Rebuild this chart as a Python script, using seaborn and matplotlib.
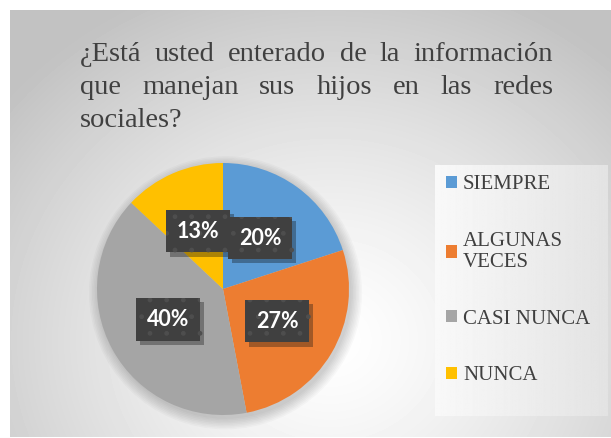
import matplotlib

matplotlib.use("Agg")
import matplotlib.pyplot as plt
import matplotlib.patheffects as pe
import numpy as np
import seaborn as sns
from matplotlib.patches import Circle, Patch

sns.set_style("white")
plt.rcParams["font.serif"] = ["Liberation Serif", "DejaVu Serif"]
plt.rcParams["font.family"] = "serif"

# data
categories = ["SIEMPRE", "ALGUNAS\nVECES", "CASI NUNCA", "NUNCA"]
values = [20, 27, 40, 13]
colors = ["#5B9BD5", "#ED7D31", "#A5A5A5", "#FFC000"]
title_lines = [
    "¿Está usted enterado de la información",
    "que manejan sus hijos en las redes",
    "sociales?",
]

W, H = 611, 438
fig = plt.figure(figsize=(W / 100, H / 100), dpi=100)
fig.patch.set_facecolor("white")

# chart area background: soft radial gradient
bg = fig.add_axes([10 / W, 1 / H, 601 / W, 427 / H])
yy, xx = np.mgrid[0:427, 0:601]
d = np.sqrt(((xx - 320) / 420.0) ** 2 + ((yy - 330) / 380.0) ** 2)
shade = 1 - 0.24 * np.clip(d, 0, 1) ** 1.3
bg.imshow(shade, cmap="gray", vmin=0, vmax=1, aspect="auto", interpolation="bilinear")
bg.set_axis_off()

# legend panel
lg = fig.add_axes([435 / W, (H - 416) / H, 173 / W, 251 / H])
grad = np.tile(np.linspace(0.975, 0.89, 200), (50, 1))
lg.imshow(grad, cmap="gray", vmin=0, vmax=1, aspect="auto")
lg.set_axis_off()

# title, justified like the original text box
renderer = fig.canvas.get_renderer()
x_left, x_right = 80, 553
baselines = [61, 94, 127]
for i, line in enumerate(title_lines):
    words = line.split()
    texts = [
        fig.text(0, 1 - baselines[i] / H, w, fontsize=20.5, color="#404040",
                 va="baseline", ha="left", family="Liberation Serif")
        for w in words
    ]
    widths = [t.get_window_extent(renderer).width for t in texts]
    if i < len(title_lines) - 1 and len(words) > 1:
        gap = (x_right - x_left - sum(widths)) / (len(words) - 1)
    else:
        gap = 7
    x = x_left
    for t, w in zip(texts, widths):
        t.set_x(x / W)
        x += w + gap

# pie
cx, cy, r = 223, H - 289, 126
ax = fig.add_axes([(cx - r) / W, (cy - r) / H, 2 * r / W, 2 * r / H])
ax.set_facecolor("none")
for k in range(8):
    ax.add_patch(Circle((0.02, -0.03), 1 + 0.012 * k, color="black",
                        alpha=0.025, lw=0, zorder=0, clip_on=False))
wedges, _, autotexts = ax.pie(
    values,
    colors=colors,
    startangle=90,
    counterclock=False,
    autopct=lambda p: f"{p:.0f}%",
    pctdistance=0.5,
    wedgeprops=dict(linewidth=0),
    textprops=dict(color="white", fontsize=15.5, fontweight="bold",
                   family=["Lato", "DejaVu Sans"]),
)
for t in autotexts:
    t.set_bbox(dict(boxstyle="square,pad=0.5", facecolor="#404040",
                    edgecolor="#4e4e4e", linewidth=0, hatch="."))
    t.get_bbox_patch().set_path_effects(
        [pe.SimplePatchShadow(offset=(3, -3), alpha=0.35), pe.Normal()]
    )
    t.set_zorder(5)
autotexts[0].set_zorder(6)
ax.set_xlim(-1, 1)
ax.set_ylim(-1, 1)
ax.set_axis_off()

# legend
handles = [Patch(facecolor=c, edgecolor="none") for c in colors]
fig.legend(
    handles,
    categories,
    loc="upper left",
    bbox_to_anchor=(446 / W, 1 - 175 / H),
    frameon=False,
    prop=dict(family="Liberation Serif", size=15),
    labelcolor="#404040",
    handlelength=0.52,
    handleheight=0.52,
    handletextpad=0.3,
    labelspacing=1.8,
    borderaxespad=0,
    borderpad=0,
)

fig.savefig("out.png", dpi=100)
